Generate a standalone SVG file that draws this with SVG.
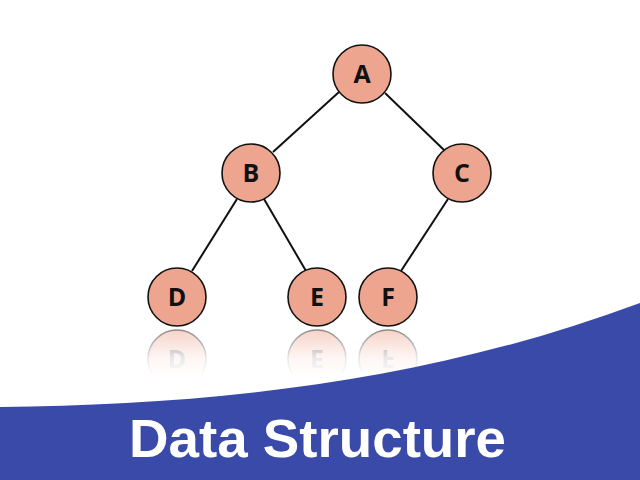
<svg xmlns="http://www.w3.org/2000/svg" xmlns:xlink="http://www.w3.org/1999/xlink" width="640" height="480" viewBox="0 0 640 480">
<style>
.node circle{fill:#eea58f;stroke:#111;stroke-width:1.6}
.node text{font-family:"Open Sans","DejaVu Sans",sans-serif;font-weight:bold;font-size:25px;fill:#111;text-anchor:middle}
.edge{stroke:#111;stroke-width:2;fill:none}
.title{font-family:"Liberation Sans",Arial,sans-serif;font-weight:bold;font-size:54px;fill:#fff}
</style>
<defs>
<linearGradient id="fade" x1="0" y1="0" x2="0" y2="1">
<stop offset="0" stop-color="#fff" stop-opacity="0.5"/>
<stop offset="0.6" stop-color="#fff" stop-opacity="0.1"/>
<stop offset="1" stop-color="#fff" stop-opacity="0"/>
</linearGradient>
<mask id="rmask" maskUnits="userSpaceOnUse" x="0" y="329" width="640" height="60">
<rect x="0" y="329" width="640" height="48" fill="url(#fade)"/>
</mask>
</defs>
<rect width="640" height="480" fill="#fff"/>
<g id="connectors">
<line class="edge" x1="339" y1="92" x2="273" y2="152"/>
<line class="edge" x1="385" y1="93" x2="444" y2="150"/>
<line class="edge" x1="237" y1="199" x2="192" y2="271"/>
<line class="edge" x1="264" y1="199" x2="306" y2="271"/>
<line class="edge" x1="448" y1="199" x2="401" y2="271"/>
</g>
<g id="reflection" mask="url(#rmask)">
<g transform="translate(0,656) scale(1,-1)">
<g class="node"><circle cx="177" cy="297" r="29"/><text x="177" y="306">D</text></g>
<g class="node"><circle cx="317" cy="297" r="29"/><text x="317" y="306">E</text></g>
<g class="node"><circle cx="388" cy="297" r="29"/><text x="388" y="306">F</text></g>
</g>
</g>
<g id="nodeA" class="node"><circle cx="362" cy="74" r="29"/><text x="362" y="83">A</text></g>
<g id="nodeB" class="node"><circle cx="251" cy="173" r="29"/><text x="251" y="182">B</text></g>
<g id="nodeC" class="node"><circle cx="462" cy="173" r="29"/><text x="462" y="182">C</text></g>
<g id="nodeD" class="node"><circle cx="177" cy="297" r="29"/><text x="177" y="306">D</text></g>
<g id="nodeE" class="node"><circle cx="317" cy="297" r="29"/><text x="317" y="306">E</text></g>
<g id="nodeF" class="node"><circle cx="388" cy="297" r="29"/><text x="388" y="306">F</text></g>
<path d="M0 407 C 200 405, 420 385, 640 303 L640 480 L0 480 Z" fill="#3a4aa8"/>
<text class="title" x="129" y="457" textLength="377" lengthAdjust="spacingAndGlyphs">Data Structure</text>
</svg>
